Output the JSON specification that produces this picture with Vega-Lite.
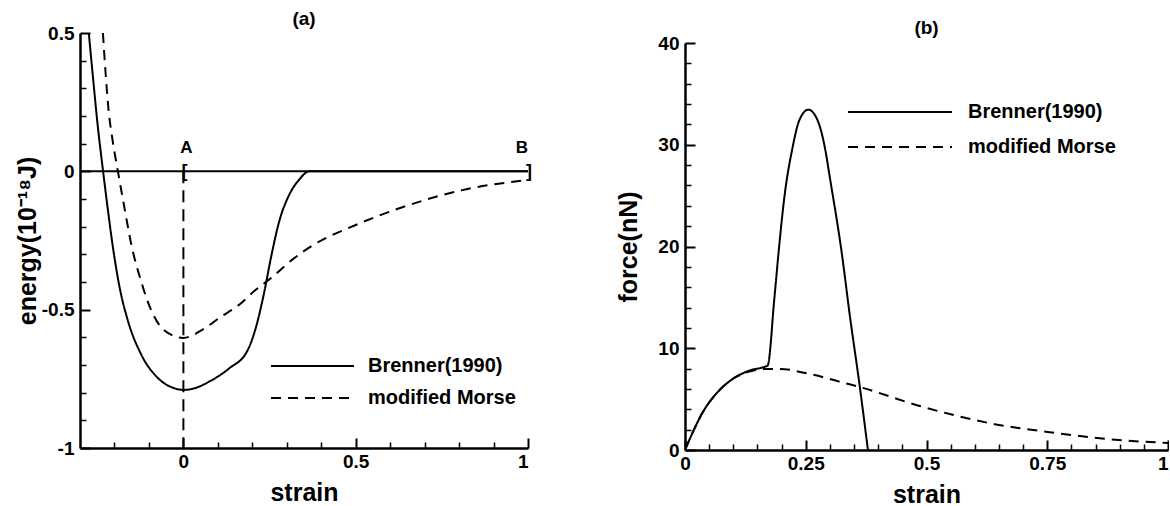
{
  "$schema": "https://vega.github.io/schema/vega-lite/v6.json",
  "background": "white",
  "padding": {"left": 15, "top": 10, "right": 0, "bottom": 0},
  "spacing": 84,
  "resolve": {"scale": {"strokeDash": "independent"}, "legend": {"strokeDash": "independent"}},
  "config": {
    "view": {"stroke": null},
    "font": "Liberation Sans",
    "axis": {
      "grid": false,
      "labelFont": "Liberation Sans",
      "labelFontWeight": "bold",
      "labelColor": "black",
      "titleFont": "Liberation Sans",
      "titleFontWeight": "bold",
      "titleColor": "black",
      "domainColor": "black",
      "tickColor": "black"
    },
    "title": {"font": "Liberation Sans", "fontWeight": "bold", "color": "black", "fontSize": 19, "anchor": "middle"},
    "legend": {"labelFont": "Liberation Sans", "labelFontWeight": "bold", "labelColor": "black", "padding": 0}
  },
  "hconcat": [
    {
      "width": 448,
      "height": 415,
      "title": {"text": "(a)", "offset": -2, "frame": "group", "dy": 3},
      "resolve": {"axis": {"x": "independent", "y": "independent"}},
      "layer": [
        {
          "data": {"values": [
            {"series": "Brenner(1990)", "strain": -0.2745, "energy": 0.5},
            {"series": "Brenner(1990)", "strain": -0.262, "energy": 0.335},
            {"series": "Brenner(1990)", "strain": -0.249, "energy": 0.17},
            {"series": "Brenner(1990)", "strain": -0.233, "energy": 0},
            {"series": "Brenner(1990)", "strain": -0.219, "energy": -0.14},
            {"series": "Brenner(1990)", "strain": -0.205, "energy": -0.27},
            {"series": "Brenner(1990)", "strain": -0.185, "energy": -0.42},
            {"series": "Brenner(1990)", "strain": -0.161, "energy": -0.54},
            {"series": "Brenner(1990)", "strain": -0.122, "energy": -0.663},
            {"series": "Brenner(1990)", "strain": -0.074, "energy": -0.747},
            {"series": "Brenner(1990)", "strain": -0.026, "energy": -0.784},
            {"series": "Brenner(1990)", "strain": 0, "energy": -0.79},
            {"series": "Brenner(1990)", "strain": 0.03, "energy": -0.785},
            {"series": "Brenner(1990)", "strain": 0.075, "energy": -0.76},
            {"series": "Brenner(1990)", "strain": 0.133, "energy": -0.712},
            {"series": "Brenner(1990)", "strain": 0.186, "energy": -0.648},
            {"series": "Brenner(1990)", "strain": 0.21, "energy": -0.566},
            {"series": "Brenner(1990)", "strain": 0.235, "energy": -0.434},
            {"series": "Brenner(1990)", "strain": 0.254, "energy": -0.313},
            {"series": "Brenner(1990)", "strain": 0.278, "energy": -0.181},
            {"series": "Brenner(1990)", "strain": 0.307, "energy": -0.085},
            {"series": "Brenner(1990)", "strain": 0.336, "energy": -0.03},
            {"series": "Brenner(1990)", "strain": 0.365, "energy": 0},
            {"series": "Brenner(1990)", "strain": 1, "energy": 0},
            {"series": "modified Morse", "strain": -0.2335, "energy": 0.5},
            {"series": "modified Morse", "strain": -0.226, "energy": 0.36},
            {"series": "modified Morse", "strain": -0.217, "energy": 0.22},
            {"series": "modified Morse", "strain": -0.207, "energy": 0.125},
            {"series": "modified Morse", "strain": -0.19, "energy": 0},
            {"series": "modified Morse", "strain": -0.171, "energy": -0.132},
            {"series": "modified Morse", "strain": -0.151, "energy": -0.265},
            {"series": "modified Morse", "strain": -0.122, "energy": -0.4},
            {"series": "modified Morse", "strain": -0.094, "energy": -0.5},
            {"series": "modified Morse", "strain": -0.055, "energy": -0.575},
            {"series": "modified Morse", "strain": 0, "energy": -0.602},
            {"series": "modified Morse", "strain": 0.056, "energy": -0.572},
            {"series": "modified Morse", "strain": 0.104, "energy": -0.53},
            {"series": "modified Morse", "strain": 0.162, "energy": -0.482},
            {"series": "modified Morse", "strain": 0.21, "energy": -0.428},
            {"series": "modified Morse", "strain": 0.254, "energy": -0.386},
            {"series": "modified Morse", "strain": 0.316, "energy": -0.319},
            {"series": "modified Morse", "strain": 0.376, "energy": -0.267},
            {"series": "modified Morse", "strain": 0.5, "energy": -0.194},
            {"series": "modified Morse", "strain": 0.654, "energy": -0.122},
            {"series": "modified Morse", "strain": 0.809, "energy": -0.068},
            {"series": "modified Morse", "strain": 1, "energy": -0.031}
          ]},
          "mark": {"type": "line", "clip": true, "strokeWidth": 2, "color": "black", "interpolate": "monotone"},
          "encoding": {
            "x": {"field": "strain", "type": "quantitative",
              "scale": {"domain": [-0.3, 1], "nice": false, "zero": false},
              "axis": {"orient": "bottom", "values": [0, 0.5, 1], "labelExpr": "toString(datum.value)", "ticks": false, "domainWidth": 2.5, "labelFontSize": 19, "labelPadding": 4, "title": "strain", "titleFontSize": 25, "titlePadding": 9}},
            "y": {"field": "energy", "type": "quantitative",
              "scale": {"domain": [-1, 0.5], "nice": false, "zero": false},
              "axis": {"orient": "left", "values": [-1, -0.5, 0, 0.5], "labelExpr": "toString(datum.value)", "ticks": false, "domainWidth": 2.5, "labelFontSize": 19, "labelPadding": 6, "title": "energy(10⁻¹⁸J)", "titleFontSize": 25, "titlePadding": 1}},
            "strokeDash": {"field": "series", "type": "nominal",
              "scale": {"domain": ["Brenner(1990)", "modified Morse"], "range": [[1, 0], [10, 7]]},
              "legend": {"orient": "none", "legendX": 190, "legendY": 322, "title": null, "symbolType": "stroke", "symbolSize": 6889, "symbolStrokeWidth": 2, "symbolStrokeColor": "black", "labelFontSize": 20, "labelOffset": 13, "clipHeight": 22, "rowPadding": 10}}
          }
        },
        {
          "data": {"values": [{"strain": -0.3, "energy": 0}, {"strain": 1, "energy": 0}]},
          "mark": {"type": "line", "strokeWidth": 2, "color": "black"},
          "encoding": {
            "x": {"field": "strain", "type": "quantitative",
              "axis": {"orient": "top", "offset": -415, "values": [0, 0.5, 1], "tickSize": 10, "tickWidth": 2, "domain": false, "labels": false, "title": null}},
            "y": {"field": "energy", "type": "quantitative",
              "axis": {"orient": "right", "offset": -448, "values": [-1, -0.5, 0, 0.5], "tickSize": 10, "tickWidth": 2, "domain": false, "labels": false, "title": null}}
          }
        },
        {
          "data": {"values": [{"strain": 0, "top": 0, "bottom": -1}]},
          "mark": {"type": "rule", "strokeWidth": 2, "color": "black", "strokeDash": [12, 7]},
          "encoding": {
            "x": {"field": "strain", "type": "quantitative",
              "axis": {"orient": "top", "offset": -415, "values": [-0.2, -0.1, 0.1, 0.2, 0.3, 0.4, 0.6, 0.7, 0.8, 0.9], "tickSize": 6, "tickWidth": 1.5, "domain": false, "labels": false, "title": null}},
            "y": {"field": "top", "type": "quantitative",
              "axis": {"orient": "right", "offset": -448, "values": [-0.9, -0.8, -0.7, -0.6, -0.4, -0.3, -0.2, -0.1, 0.1, 0.2, 0.3, 0.4], "tickSize": 6, "tickWidth": 1.5, "domain": false, "labels": false, "title": null}},
            "y2": {"field": "bottom"}
          }
        },
        {
          "data": {"values": [{"strain": 0, "energy": 0, "label": "A"}]},
          "mark": {"type": "text", "fontSize": 17, "fontWeight": "bold", "color": "black", "align": "center", "baseline": "alphabetic", "dx": 3, "dy": -18},
          "encoding": {
            "x": {"field": "strain", "type": "quantitative", "axis": null},
            "y": {"field": "energy", "type": "quantitative", "axis": null},
            "text": {"field": "label"}
          }
        },
        {
          "data": {"values": [{"strain": 1, "energy": 0, "label": "B"}]},
          "mark": {"type": "text", "fontSize": 17, "fontWeight": "bold", "color": "black", "align": "right", "baseline": "alphabetic", "dx": 0, "dy": -18},
          "encoding": {
            "x": {"field": "strain", "type": "quantitative", "axis": null},
            "y": {"field": "energy", "type": "quantitative", "axis": null},
            "text": {"field": "label"}
          }
        },
        {
          "data": {"values": [{"strain": 0, "energy": 0, "label": "["}]},
          "mark": {"type": "text", "fontSize": 18, "fontWeight": "bold", "color": "black", "align": "left", "baseline": "middle", "dx": -2, "dy": 1},
          "encoding": {
            "x": {"field": "strain", "type": "quantitative", "axis": null},
            "y": {"field": "energy", "type": "quantitative", "axis": null},
            "text": {"field": "label"}
          }
        },
        {
          "data": {"values": [{"strain": 1, "energy": 0, "label": "]"}]},
          "mark": {"type": "text", "fontSize": 18, "fontWeight": "bold", "color": "black", "align": "right", "baseline": "middle", "dx": 4, "dy": 1},
          "encoding": {
            "x": {"field": "strain", "type": "quantitative", "axis": null},
            "y": {"field": "energy", "type": "quantitative", "axis": null},
            "text": {"field": "label"}
          }
        }
      ]
    },
    {
      "width": 483,
      "height": 417,
      "title": {"text": "(b)", "offset": -2, "frame": "group", "dy": 3},
      "resolve": {"axis": {"x": "independent", "y": "independent"}},
      "data": {"values": [
        {"series": "Brenner(1990)", "strain": 0, "force": 0},
        {"series": "Brenner(1990)", "strain": 0.0157, "force": 1.7},
        {"series": "Brenner(1990)", "strain": 0.0364, "force": 3.68},
        {"series": "Brenner(1990)", "strain": 0.064, "force": 5.5},
        {"series": "Brenner(1990)", "strain": 0.0986, "force": 6.98},
        {"series": "Brenner(1990)", "strain": 0.133, "force": 7.8},
        {"series": "Brenner(1990)", "strain": 0.171, "force": 8.3},
        {"series": "Brenner(1990)", "strain": 0.185, "force": 14.9},
        {"series": "Brenner(1990)", "strain": 0.194, "force": 19.55},
        {"series": "Brenner(1990)", "strain": 0.2056, "force": 24.8},
        {"series": "Brenner(1990)", "strain": 0.2228, "force": 29.75},
        {"series": "Brenner(1990)", "strain": 0.2366, "force": 32.4},
        {"series": "Brenner(1990)", "strain": 0.2553, "force": 33.45},
        {"series": "Brenner(1990)", "strain": 0.2745, "force": 32.4},
        {"series": "Brenner(1990)", "strain": 0.292, "force": 29.1},
        {"series": "Brenner(1990)", "strain": 0.2988, "force": 27.1},
        {"series": "Brenner(1990)", "strain": 0.324, "force": 19.55},
        {"series": "Brenner(1990)", "strain": 0.342, "force": 12.95},
        {"series": "Brenner(1990)", "strain": 0.3615, "force": 6.36},
        {"series": "Brenner(1990)", "strain": 0.3787, "force": 0},
        {"series": "modified Morse", "strain": 0, "force": 0},
        {"series": "modified Morse", "strain": 0.0157, "force": 1.7},
        {"series": "modified Morse", "strain": 0.0364, "force": 3.68},
        {"series": "modified Morse", "strain": 0.064, "force": 5.5},
        {"series": "modified Morse", "strain": 0.0986, "force": 6.98},
        {"series": "modified Morse", "strain": 0.133, "force": 7.7},
        {"series": "modified Morse", "strain": 0.165, "force": 7.95},
        {"series": "modified Morse", "strain": 0.195, "force": 7.97},
        {"series": "modified Morse", "strain": 0.257, "force": 7.48},
        {"series": "modified Morse", "strain": 0.333, "force": 6.55},
        {"series": "modified Morse", "strain": 0.361, "force": 6.2},
        {"series": "modified Morse", "strain": 0.482, "force": 4.38},
        {"series": "modified Morse", "strain": 0.56, "force": 3.39},
        {"series": "modified Morse", "strain": 0.638, "force": 2.57},
        {"series": "modified Morse", "strain": 0.755, "force": 1.75},
        {"series": "modified Morse", "strain": 0.871, "force": 1.09},
        {"series": "modified Morse", "strain": 1, "force": 0.69}
      ]},
      "layer": [
        {
          "transform": [{"filter": "datum.series === 'Brenner(1990)'"}],
          "mark": {"type": "line", "clip": true, "strokeWidth": 2, "color": "black", "interpolate": "monotone"},
          "encoding": {
            "x": {"field": "strain", "type": "quantitative",
              "scale": {"domain": [0, 1], "nice": false, "zero": false},
              "axis": {"orient": "bottom", "values": [0, 0.25, 0.5, 0.75, 1], "labelExpr": "toString(datum.value)", "labelAlign": {"expr": "datum.value == 1 ? 'right' : 'center'"}, "ticks": false, "domainWidth": 2.5, "labelFontSize": 19, "labelPadding": 4, "title": "strain", "titleFontSize": 25, "titlePadding": 9}},
            "y": {"field": "force", "type": "quantitative",
              "scale": {"domain": [0, 40], "nice": false, "zero": false, "range": [417, 10]},
              "axis": {"orient": "left", "values": [0, 10, 20, 30, 40], "labelExpr": "toString(datum.value)", "ticks": false, "domainWidth": 2.5, "labelFontSize": 19, "labelPadding": 6, "title": "force(nN)", "titleFontSize": 25, "titlePadding": 16}},
            "strokeDash": {"field": "series", "type": "nominal",
              "scale": {"domain": ["Brenner(1990)", "modified Morse"], "range": [[1, 0], [10, 7]]},
              "legend": {"orient": "none", "legendX": 162, "legendY": 68, "title": null, "symbolType": "stroke", "symbolSize": 10816, "symbolStrokeWidth": 2, "symbolStrokeColor": "black", "labelFontSize": 20, "labelOffset": 15, "clipHeight": 22, "rowPadding": 13}}
          }
        },
        {
          "transform": [{"filter": "datum.series === 'modified Morse'"}],
          "mark": {"type": "line", "clip": true, "strokeWidth": 2, "color": "black", "interpolate": "monotone"},
          "encoding": {
            "x": {"field": "strain", "type": "quantitative",
              "scale": {"domain": [0, 1], "nice": false, "zero": false},
              "axis": {"orient": "top", "offset": -417, "values": [0, 0.25, 0.5, 0.75, 1], "tickSize": 10, "tickWidth": 2, "domain": false, "labels": false, "title": null}},
            "y": {"field": "force", "type": "quantitative",
              "scale": {"domain": [0, 40], "nice": false, "zero": false, "range": [417, 10]},
              "axis": {"orient": "right", "offset": -483, "values": [0, 10, 20, 30, 40], "tickSize": 10, "tickWidth": 2, "domain": false, "labels": false, "title": null}},
            "strokeDash": {"field": "series", "type": "nominal",
              "scale": {"domain": ["Brenner(1990)", "modified Morse"], "range": [[1, 0], [10, 7]]},
              "legend": {"orient": "none", "legendX": 162, "legendY": 68, "title": null, "symbolType": "stroke", "symbolSize": 10816, "symbolStrokeWidth": 2, "symbolStrokeColor": "black", "labelFontSize": 20, "labelOffset": 15, "clipHeight": 22, "rowPadding": 13}}
          }
        },
        {
          "data": {"values": []},
          "mark": {"type": "point"},
          "encoding": {
            "x": {"field": "strain", "type": "quantitative",
              "axis": {"orient": "top", "offset": -417, "values": [0.05, 0.1, 0.15, 0.2, 0.3, 0.35, 0.4, 0.45, 0.55, 0.6, 0.65, 0.7, 0.8, 0.85, 0.9, 0.95], "tickSize": 6, "tickWidth": 1.5, "domain": false, "labels": false, "title": null}},
            "y": {"field": "force", "type": "quantitative",
              "axis": {"orient": "right", "offset": -483, "values": [2, 4, 6, 8, 12, 14, 16, 18, 22, 24, 26, 28, 32, 34, 36, 38], "tickSize": 6, "tickWidth": 1.5, "domain": false, "labels": false, "title": null}}
          }
        }
      ]
    }
  ]
}
